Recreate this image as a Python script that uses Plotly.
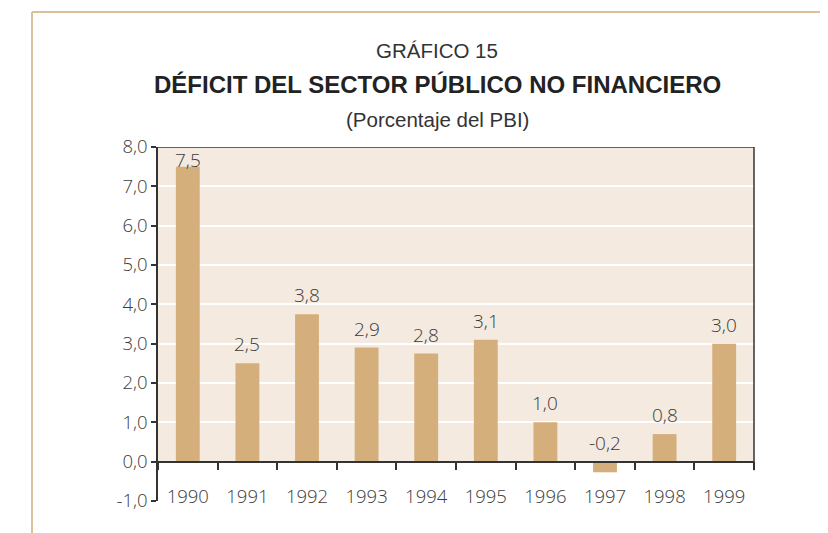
import plotly.graph_objects as go

years = ["1990", "1991", "1992", "1993", "1994", "1995", "1996", "1997", "1998", "1999"]
deficit = [7.5, 2.5, 3.75, 2.9, 2.75, 3.1, 1.0, -0.27, 0.7, 3.0]
value_labels = ["7,5", "2,5", "3,8", "2,9", "2,8", "3,1", "1,0", "-0,2", "0,8", "3,0"]
y_ticks = [-1, 0, 1, 2, 3, 4, 5, 6, 7, 8]

BAR = "#d4ae7b"
BG = "#f4eadf"
AX = "#333333"
TXT = "#3c3c3c"
FRAME = "#dcc09a"
FONT = "Open Sans"

ymin, ymax = -1, 8
# page is offset by the 8px body margin; work in page coordinates relative to the plot area
W, H = 596, 354          # plot area size in px
PL, PT = 158, 147        # plot area left/top in page px

fig = go.Figure()
fig.add_trace(go.Bar(x=years, y=deficit, marker=dict(color=BAR, line=dict(width=0)),
                     hoverinfo="skip"))

# value labels above bars (or above zero line for negatives); kept inside the plot top
for i, (v, lab) in enumerate(zip(deficit, value_labels)):
    base = max(v, 0)
    if base + 0.55 > ymax:
        fig.add_annotation(x=i, y=ymax, text=lab, showarrow=False, xref="x", yref="y",
                           yanchor="top", yshift=2,
                           font=dict(family=FONT, size=19, color=TXT, weight=300))
    else:
        fig.add_annotation(x=i, y=base, text=lab, showarrow=False, xref="x", yref="y",
                           yanchor="bottom", yshift=4,
                           font=dict(family=FONT, size=19, color=TXT, weight=300))

shapes = [
    dict(type="rect", xref="paper", yref="y", x0=0, x1=1, y0=0, y1=ymax,
         fillcolor=BG, line=dict(width=0), layer="below"),
    dict(type="line", xref="paper", yref="y", x0=0, x1=1, y0=ymax, y1=ymax,
         line=dict(color=AX, width=1.5)),
    dict(type="line", xref="paper", yref="y", x0=1, x1=1, y0=ymax, y1=-0.22,
         line=dict(color=AX, width=1.5)),
    dict(type="line", xref="paper", yref="paper", x0=(32 - PL) / W, x1=(840 - PL) / W,
         y0=1 + (PT - 12) / H, y1=1 + (PT - 12) / H, line=dict(color=FRAME, width=2)),
    dict(type="line", xref="paper", yref="paper", x0=(32 - PL) / W, x1=(32 - PL) / W,
         y0=1 + (PT - 12) / H, y1=-60 / H, line=dict(color=FRAME, width=2)),
]
fig.update_layout(shapes=shapes)

cx = (437 - PL) / W
fig.add_annotation(text="GRÁFICO 15", xref="paper", yref="paper", x=cx,
                   y=1 + (PT - 50) / H, showarrow=False, yanchor="middle",
                   font=dict(family="Liberation Sans", size=20.5, color="#333333"))
fig.add_annotation(text="<b>DÉFICIT DEL SECTOR PÚBLICO NO FINANCIERO</b>", xref="paper", yref="paper",
                   x=cx, y=1 + (PT - 85) / H, showarrow=False, yanchor="middle",
                   font=dict(family="Liberation Sans", size=24, color="#222222"))
fig.add_annotation(text="(Porcentaje del PBI)", xref="paper", yref="paper", x=cx,
                   y=1 + (PT - 119) / H, showarrow=False, yanchor="middle",
                   font=dict(family="Liberation Sans", size=20.5, color="#333333"))

fig.update_layout(
    width=820, height=525,
    margin=dict(l=150, r=74, t=139, b=32, pad=0),
    paper_bgcolor="white", plot_bgcolor="rgba(0,0,0,0)",
    showlegend=False,
    bargap=0.6,
    font=dict(family=FONT, color=TXT),
    xaxis=dict(type="category", range=[-0.5, len(years) - 0.5], anchor="free",
               position=(0 - ymin) / (ymax - ymin),
               showline=True, linecolor=AX, linewidth=1.5,
               ticks="outside", tickson="boundaries", ticklen=8, tickcolor=AX, tickwidth=1.5,
               showgrid=False, zeroline=False, ticklabelstandoff=18,
               tickfont=dict(family=FONT, size=18.5, color=TXT, weight=300)),
    yaxis=dict(range=[ymin, ymax], tickmode="array", tickvals=y_ticks,
               ticktext=[f"{t:.1f}".replace(".", ",") for t in y_ticks],
               showline=True, linecolor=AX, linewidth=1.5,
               ticks="outside", ticklen=5, tickcolor=AX, tickwidth=1.5,
               showgrid=True, gridcolor="white", gridwidth=1.5, zeroline=False,
               tickfont=dict(family=FONT, size=18.5, color=TXT, weight=300)),
)

fig.write_html("out.html")
